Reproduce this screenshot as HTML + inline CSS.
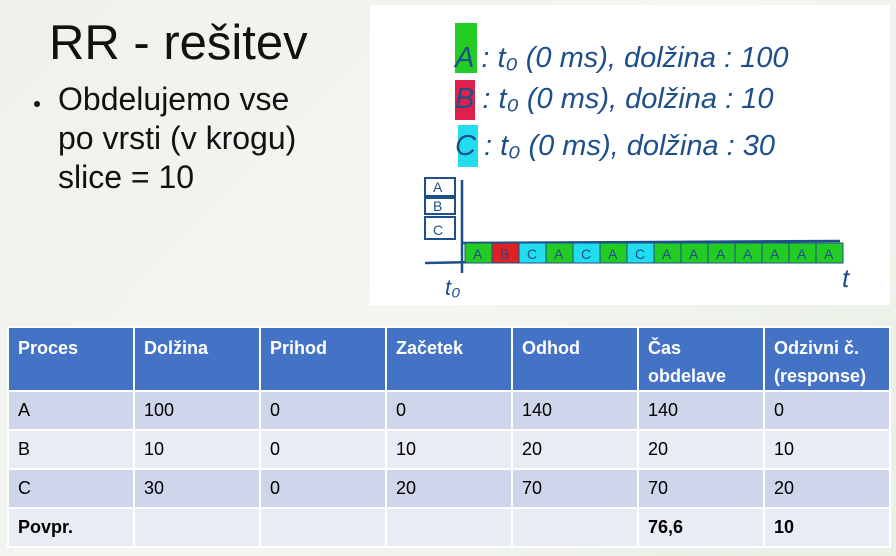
<!DOCTYPE html>
<html><head><meta charset="utf-8">
<style>
html,body{margin:0;padding:0}
body{width:896px;height:556px;position:relative;overflow:hidden;background:linear-gradient(135deg,#eef2ea 0%,#f4f6f1 50%,#e8efe4 100%);font-family:"Liberation Sans",sans-serif}
#title{position:absolute;left:49px;top:15px;font-size:49px;color:#111}
#bullets{position:absolute;left:58px;top:80px;font-size:32px;line-height:39px;color:#111}
#bullet-dot{position:absolute;left:34px;top:101px;width:6px;height:6px;border-radius:3px;background:#111}
#sketch{position:absolute;left:370px;top:5px}
table{position:absolute;left:7px;top:326px;border-collapse:collapse;font-size:18px;color:#000}
td,th{border:2px solid #fff;padding:0 0 0 9px;text-align:left;vertical-align:top;width:115px}
th{background:#4472c4;color:#fff;height:64px;padding-top:6px;font-weight:bold;line-height:28px;box-sizing:border-box}
td{height:37px;vertical-align:middle}
tr.o td{background:#cfd5ea}
tr.e td{background:#e9ebf5}
</style></head><body>
<div id="title">RR - rešitev</div>
<div id="bullet-dot"></div>
<div id="bullets">Obdelujemo vse<br>po vrsti (v krogu)<br>slice = 10</div>
<svg id="sketch" width="520" height="300" font-family="Liberation Sans, sans-serif">
<rect x="0" y="0" width="520" height="300" fill="#fff"/>
<g fill="#1d4f8a" font-size="29" font-style="italic">
<rect x="85" y="18" width="22" height="50" fill="#22cc22"/>
<text x="85" y="62">A : t₀ (0 ms), dolžina : 100</text>
<rect x="85" y="75" width="20" height="40" fill="#e0204a"/>
<text x="85" y="103">B : t₀ (0 ms), dolžina : 10</text>
<rect x="88" y="120" width="20" height="42" fill="#22ddee"/>
<text x="85" y="150">C : t₀ (0 ms), dolžina : 30</text>
</g>
<g stroke="#1d4f8a" stroke-width="2.5" fill="none">
<line x1="55" y1="258" x2="470" y2="250"/>
<line x1="92" y1="175" x2="92" y2="268"/>
<line x1="92" y1="238" x2="470" y2="236"/>
</g>
<g fill="none" stroke="#1d4f8a" stroke-width="2">
<rect x="55" y="173" width="30" height="18"/><rect x="55" y="193" width="30" height="16"/><rect x="55" y="212" width="30" height="22"/>
</g>
<g fill="#1d4f8a" font-size="14"><text x="63" y="187">A</text><text x="63" y="206">B</text><text x="63" y="230">C</text></g>
<g id="blocks"></g>
<text x="75" y="290" font-size="22" fill="#1d4f8a" font-style="italic">t₀</text>
<text x="472" y="282" font-size="26" fill="#1d4f8a" font-style="italic">t</text>
</svg>
<script>
const sequence=["A","B","C","A","C","A","C","A","A","A","A","A","A","A"];
const colors={A:"#22cc22",B:"#dd2222",C:"#22ddee"};
const g=document.getElementById('blocks');
const x0=95,w=27;
sequence.forEach((p,i)=>{
 const r=document.createElementNS('http://www.w3.org/2000/svg','rect');
 r.setAttribute('x',x0+i*w);r.setAttribute('y',238);r.setAttribute('width',w);r.setAttribute('height',20);
 r.setAttribute('fill',colors[p]);r.setAttribute('stroke','#1d4f8a');r.setAttribute('stroke-width','1');
 
 
 g.appendChild(r);
 const t=document.createElementNS('http://www.w3.org/2000/svg','text');
 t.setAttribute('x',x0+i*w+8);t.setAttribute('y',254);t.setAttribute('font-size','14');t.setAttribute('fill','#1d4f8a');
 t.textContent=p;
 
 
 g.appendChild(t);
});
</script>
<table>
<tr><th>Proces</th><th>Dolžina</th><th>Prihod</th><th>Začetek</th><th>Odhod</th><th>Čas obdelave</th><th>Odzivni č. (response)</th></tr>
<tr class="o"><td>A</td><td>100</td><td>0</td><td>0</td><td>140</td><td>140</td><td>0</td></tr>
<tr class="e"><td>B</td><td>10</td><td>0</td><td>10</td><td>20</td><td>20</td><td>10</td></tr>
<tr class="o"><td>C</td><td>30</td><td>0</td><td>20</td><td>70</td><td>70</td><td>20</td></tr>
<tr class="e"><td><b>Povpr.</b></td><td></td><td></td><td></td><td></td><td><b>76,6</b></td><td><b>10</b></td></tr>
</table>
</body></html>
